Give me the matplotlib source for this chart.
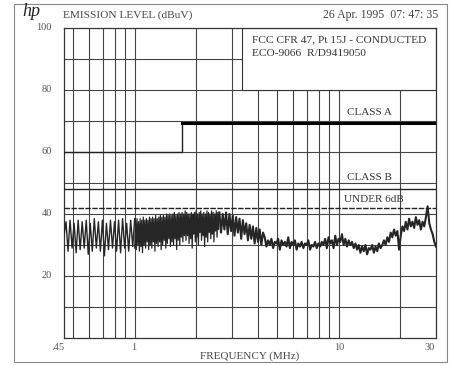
from matplotlib import pyplot as plt
from matplotlib.patches import Rectangle
import numpy as np

plt.rcParams['font.family'] = ['Liberation Serif', 'DejaVu Serif']

# sweep segments (MHz) and measured levels (dBuV)
seg_bounds = [(0.45, 1.0), (1.0, 2.6), (2.6, 30.0)]

level_low = [33, 37.5, 28, 38, 29, 37, 27.5, 38, 28.5, 37.5, 29, 38, 27, 37, 28,
             38.5, 29, 37.5, 28, 38, 26.5, 37, 28.5, 38, 29, 37.5, 28, 38, 27.5,
             38.5, 29, 37, 28, 38, 29.5, 38.5]

level_mid = [29, 38, 28.5, 38.5, 30, 37.5, 28, 38.5, 29.5, 38,
             27.5, 39, 30, 38, 29, 38.5, 31, 38, 28.5, 39,
             30, 38.5, 29, 39, 31, 38.5, 28, 39.5, 30.5, 38.5,
             29.5, 39, 31, 39.5, 28.5, 39, 30, 39.5, 31.5, 39,
             29, 40, 30.5, 39.5, 32, 40, 29.5, 39.5, 31, 40,
             30, 40.5, 32, 39.5, 28.5, 40, 31.5, 40.5, 30, 40,
             32.5, 40.5, 31, 40, 33, 41, 31.5, 40.5, 33, 40,
             30.5, 40, 32, 40.5, 29, 40, 33.5, 40.5, 31, 41,
             32.5, 40, 30, 40.5, 34, 41, 31.5, 40, 33, 40.5,
             29.5, 40, 32.5, 41, 31, 40.5, 34, 40, 32, 41,
             33.5, 40.5, 31, 40, 34.5, 41, 32.5, 40.5, 35, 40.5]

level_high = [40.5, 34, 40, 35, 40.5, 33.5, 40, 34.5,
              39.5, 33, 39, 34, 38.5, 32, 38, 33.5, 37, 31.5, 36.5, 32, 36, 30.5,
              35.5, 31, 35, 30, 34,
              32.5, 29.5, 31.5, 30, 32, 29, 31, 30.5, 32, 28.5, 31.5, 30, 31,
              29.5, 32.5, 29, 31, 30, 31.5, 28.5, 30.5, 29.5, 31, 29, 30.5, 30,
              31.5, 28.5, 30, 29.5, 31, 29, 30.5,
              29.5, 31, 30, 32, 29, 32.5, 30.5, 31.5, 29, 33, 30, 32, 31, 33.5,
              30, 32, 29.5, 31.5, 30, 31, 29, 30.5,
              28.5, 30, 27.5, 29.5, 28, 30, 27, 29, 28.5, 30, 27.5, 29.5, 28,
              30.5, 29,
              30, 31.5, 30, 32.5, 31, 34, 32.5, 35, 33, 34.5,
              28.5,
              33, 36, 34.5, 37.5, 35, 38.5, 36, 37.5, 35.5, 39, 36.5, 38, 35,
              37.5, 36, 39,
              42.5,
              37, 35, 33.5, 31, 29.5]

# FCC Pt 15J conducted limits
class_a_step_freq = [0.45, 1.705, 1.705]
class_a_step_level = [60, 60, 69.5]
class_a_freq = [1.705, 30]
class_a_level = [69.5, 69.5]
class_b_level = 48
under_6db_level = 42

y_ticks = [100, 80, 60, 40, 20]
x_ticks = [(0.45, '.45'), (1, '1'), (10, '10'), (30, '30')]
v_grid = [0.5, 0.6, 0.7, 0.8, 0.9, 1, 2, 3, 4, 5, 6, 7, 8, 9, 10, 20]

fig = plt.figure(figsize=(4.49, 3.66), dpi=100)
ax = fig.add_axes([64 / 449, 1 - 338 / 366, 372 / 449, 310 / 366])
ax.set_xscale('log')
ax.set_xlim(0.45, 30)
ax.set_ylim(0, 100)
ax.set_xticks([])
ax.set_yticks([])
ax.minorticks_off()
for s in ax.spines.values():
    s.set_color('#333333')
    s.set_linewidth(0.9)

gc = '#444444'
for y in range(10, 100, 10):
    ax.axhline(y, color=gc, lw=0.8, zorder=1)
for f in v_grid:
    ax.axvline(f, color=gc, lw=0.8, zorder=1)

# text box (covers grid)
ax.add_patch(Rectangle((3.37, 80), 30 - 3.37, 20, facecolor='white',
                       edgecolor='#333333', lw=0.8, zorder=2))
ax.text(3.75, 96.3, 'FCC CFR 47, Pt 15J - CONDUCTED', fontsize=8.2,
        color='#333333', va='center', zorder=3)
ax.text(3.75, 91.8, 'ECO-9066  R/D9419050', fontsize=8.2,
        color='#333333', va='center', zorder=3)

# limits
ax.plot(class_a_step_freq, class_a_step_level, color='#222222', lw=1.0, zorder=4)
ax.plot(class_a_freq, class_a_level, color='black', lw=2.2, zorder=4)
ax.axhline(class_b_level, color='#222222', lw=1.0, zorder=4)
ax.axhline(under_6db_level, color='#222222', lw=1.0, ls=(0, (4, 1)), zorder=4)
ax.text(11, 72, 'CLASS A', fontsize=8, color='#333333', zorder=5)
ax.text(11, 51, 'CLASS B', fontsize=8, color='#333333', zorder=5)
ax.text(10.6, 44, 'UNDER 6dB', fontsize=8, color='#333333', zorder=5)

# measured trace
levels = [level_low, level_mid, level_high]
widths = [1.0, 0.9, 1.5]
for (f0, f1), lv, w in zip(seg_bounds, levels, widths):
    fr = np.geomspace(f0, f1, len(lv))
    ax.plot(fr, lv, color='#262626', lw=w, zorder=6)

# tick labels
for y in y_ticks:
    fig.text(52 / 449, 1 - (28 + (100 - y) * 3.1) / 366, str(y), fontsize=7.5,
             color='#555555', ha='right', va='center')
xpix = {0.45: 58, 1: 134, 10: 339, 30: 430}
for f, lab in x_ticks:
    fig.text(xpix[f] / 449, 1 - 347 / 366, lab, fontsize=7.5,
             color='#555555', ha='center', va='center')

fig.text(250 / 449, 1 - 356 / 366, 'FREQUENCY (MHz)', fontsize=8,
         color='#444444', ha='center', va='center')
fig.text(63 / 449, 1 - 15 / 366, 'EMISSION LEVEL (dBuV)', fontsize=8.2,
         color='#444444', ha='left', va='center')
fig.text(438 / 449, 1 - 15 / 366, '26 Apr. 1995  07: 47: 35', fontsize=8.5,
         color='#444444', ha='right', va='center')
fig.text(22 / 449, 1 - 11 / 366, 'hp', fontsize=13, style='italic',
         color='#222222', ha='left', va='center')

# outer frame
fig.add_artist(Rectangle((14 / 449, 1 - 362 / 366), 433 / 449, 358 / 366,
                         transform=fig.transFigure, fill=False,
                         edgecolor='#888888', lw=0.8))

fig.savefig('out.png', dpi=100)
